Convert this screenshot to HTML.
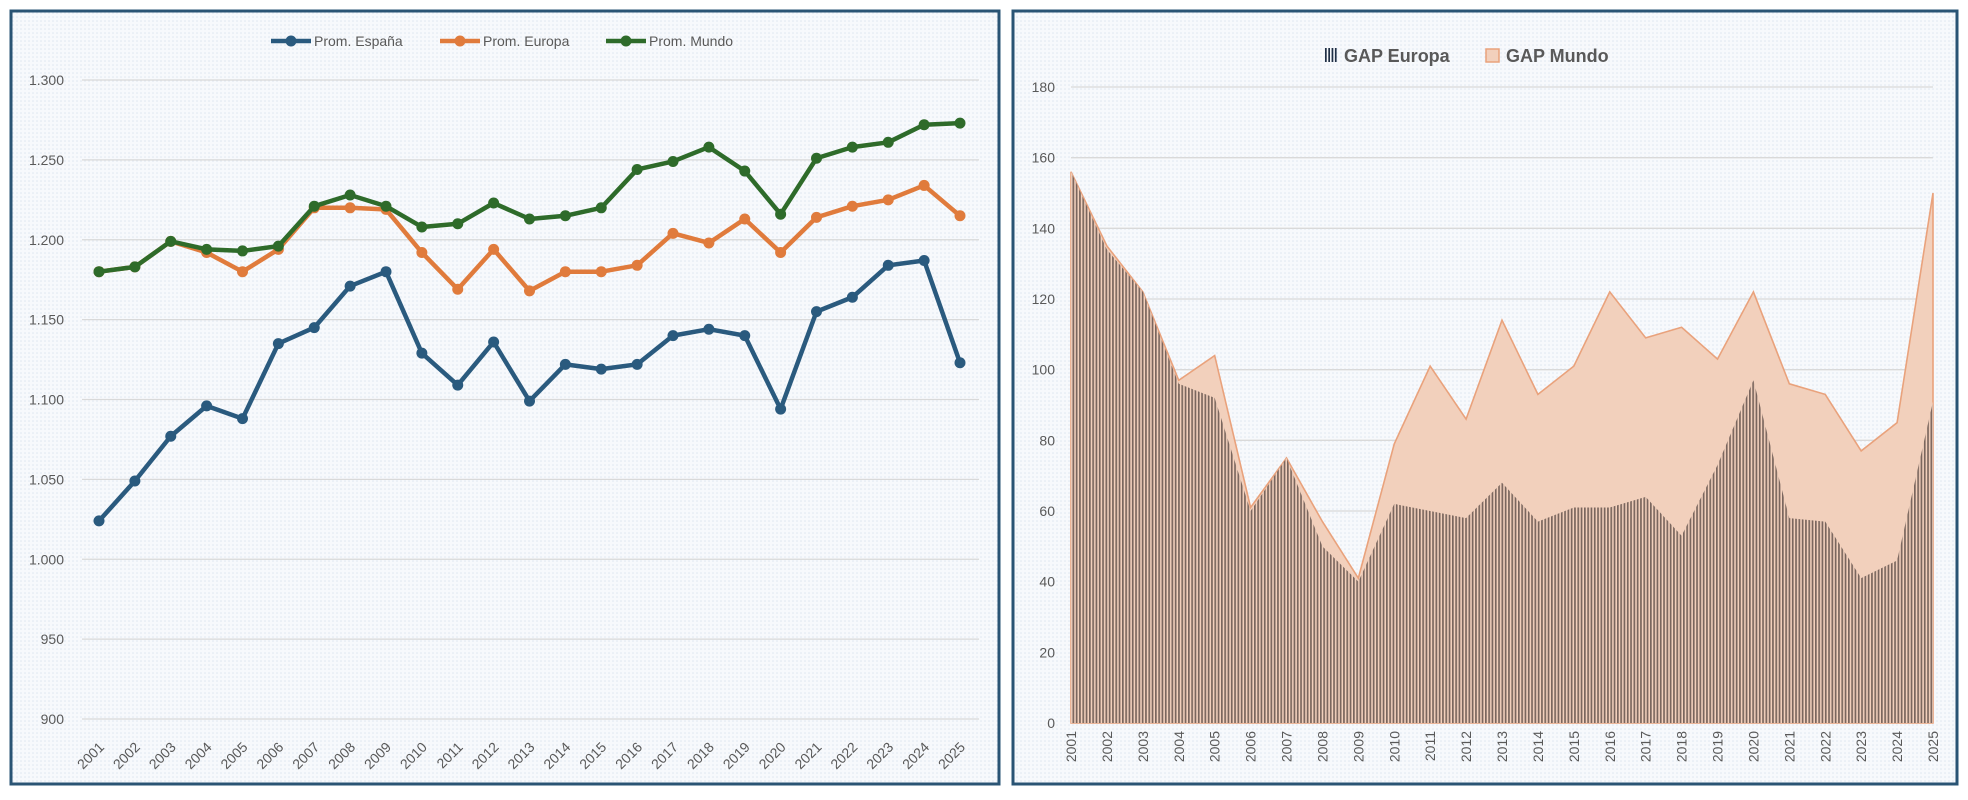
<!DOCTYPE html>
<html><head><meta charset="utf-8"><style>
html,body{margin:0;padding:0;background:#fff;}
body{width:1968px;height:800px;overflow:hidden;font-family:"Liberation Sans",sans-serif;}
svg{display:block}
</style></head><body>
<svg width="1968" height="800" xmlns="http://www.w3.org/2000/svg">
<defs>
<pattern id="dots" width="4" height="4" patternUnits="userSpaceOnUse"><rect width="4" height="4" fill="#f7f9fc"/><circle cx="1" cy="1" r="0.8" fill="#dfe7f1"/></pattern>
<pattern id="stripes" width="3.3" height="10" patternUnits="userSpaceOnUse"><rect width="3.3" height="10" fill="#f2d0bc"/><rect width="1.7" height="10" fill="#7a665e"/></pattern>
</defs>
<rect x="11" y="11" width="988" height="773" fill="url(#dots)" stroke="#2a5474" stroke-width="3"/>
<rect x="1013" y="11" width="944" height="773" fill="url(#dots)" stroke="#2a5474" stroke-width="3"/>
<g id="left"></g>
<g id="right"></g>
</svg>
<script>
const years=['2001','2002','2003','2004','2005','2006','2007','2008','2009','2010','2011','2012','2013','2014','2015','2016','2017','2018','2019','2020','2021','2022','2023','2024','2025'];
const espana=[1024,1049,1077,1096,1088,1135,1145,1171,1180,1129,1109,1136,1099,1122,1119,1122,1140,1144,1140,1094,1155,1164,1184,1187,1123];
const europa=[1180,1183,1199,1192,1180,1194,1220,1220,1219,1192,1169,1194,1168,1180,1180,1184,1204,1198,1213,1192,1214,1221,1225,1234,1215];
const mundo=[1180,1183,1199,1194,1193,1196,1221,1228,1221,1208,1210,1223,1213,1215,1220,1244,1249,1258,1243,1216,1251,1258,1261,1272,1273];
const leftTicks=[900,950,1000,1050,1100,1150,1200,1250,1300];
const leftTickLabels=['900','950','1.000','1.050','1.100','1.150','1.200','1.250','1.300'];
const gapMundo=[156,135,122,97,104,61,75,57,41,79,101,86,114,93,101,122,109,112,103,122,96,93,77,85,150];
const gapEuropa=[156,134,122,96,92,60,75,50,40,62,60,58,68,57,61,61,64,53,73,97,58,57,41,46,91];
const rightTicks=[0,20,40,60,80,100,120,140,160,180];

const NS='http://www.w3.org/2000/svg';
function mk(tag,attrs,parent,text){const e=document.createElementNS(NS,tag);for(const k in attrs)e.setAttribute(k,attrs[k]);if(text!==undefined)e.textContent=text;parent.appendChild(e);return e;}

// LEFT CHART
const L=document.getElementById('left');
const lx=i=>99+i*(960-99)/(years.length-1);
const ly=v=>719-(v-900)*(719-80)/400;
leftTicks.forEach((t,i)=>{
  const g=mk('line',{x1:82,x2:979,y1:ly(t),y2:ly(t),stroke:'#d9d9d9','stroke-width':1.3},L);
  
  
  const tx=mk('text',{x:64,y:ly(t)+5,'text-anchor':'end','font-size':14,fill:'#595959'},L,leftTickLabels[i]);
  
  
});
years.forEach((y,i)=>{
  const x=lx(i);
  const tx=mk('text',{x:x+6,y:748,'text-anchor':'end','font-size':14,fill:'#595959',transform:`rotate(-45 ${x+6} 748)`},L,y);
  
  
});
function series(data,color,name){
  const g=mk('g',{},L);
  
  
  mk('polyline',{points:data.map((v,i)=>lx(i)+','+ly(v)).join(' '),fill:'none',stroke:color,'stroke-width':4.5,'stroke-linejoin':'round'},g);
  data.forEach((v,i)=>{
    const c=mk('circle',{cx:lx(i),cy:ly(v),r:5.5,fill:color},g);
    
    
  });
}
series(europa,'#e07b3c','europa-series');
series(mundo,'#2e6b2a','mundo-series');
series(espana,'#2a5a7e','espana-series');
function lineLegend(x,color,label,name){
  const g=mk('g',{},L);
  
  
  mk('line',{x1:x,x2:x+40,y1:41,y2:41,stroke:color,'stroke-width':4.5},g);
  mk('circle',{cx:x+20,cy:41,r:5.5,fill:color},g);
  mk('text',{x:x+43,y:46,'font-size':14,fill:'#595959'},g,label);
}
lineLegend(271,'#2a5a7e','Prom. España','legend-espana');
lineLegend(440,'#e07b3c','Prom. Europa','legend-europa');
lineLegend(606,'#2e6b2a','Prom. Mundo','legend-mundo');

// RIGHT CHART
const R=document.getElementById('right');
const rx=i=>1071+i*(1933-1071)/(years.length-1);
const ry=v=>723-v*(723-87)/180;
rightTicks.forEach(t=>{
  const g=mk('line',{x1:1071,x2:1933,y1:ry(t),y2:ry(t),stroke:'#d9d9d9','stroke-width':1.3},R);
  
  
  const tx=mk('text',{x:1055,y:ry(t)+5,'text-anchor':'end','font-size':14,fill:'#595959'},R,String(t));
  
  
});
const mPts=gapMundo.map((v,i)=>rx(i)+','+ry(v)).join(' ');
const mArea=mk('polygon',{points:`${rx(0)},${ry(0)} ${mPts} ${rx(years.length-1)},${ry(0)}`,fill:'#f2d0bc',stroke:'#e9a27c','stroke-width':1.6},R);


const ePts=gapEuropa.map((v,i)=>rx(i)+','+ry(v)).join(' ');
const eArea=mk('polygon',{points:`${rx(0)},${ry(0)} ${ePts} ${rx(years.length-1)},${ry(0)}`,fill:'url(#stripes)'},R);


years.forEach((y,i)=>{
  const x=rx(i);
  const tx=mk('text',{x:x+5,y:731,'text-anchor':'end','font-size':14,fill:'#595959',transform:`rotate(-90 ${x+5} 731)`},R,y);
  
  
});
const lg1=mk('g',{},R);


[0,3.3,6.6,9.9].forEach(o=>mk('rect',{x:1325+o,y:48,width:1.7,height:14,fill:'#1f2f45'},lg1));
mk('text',{x:1344,y:62,'font-size':18,'font-weight':'bold',fill:'#595959'},lg1,'GAP Europa');
const lg2=mk('g',{},R);


mk('rect',{x:1486,y:49,width:13,height:13,fill:'#f2d0bc',stroke:'#e9a27c','stroke-width':1.5},lg2);
mk('text',{x:1506,y:62,'font-size':18,'font-weight':'bold',fill:'#595959'},lg2,'GAP Mundo');
</script>
</body></html>
